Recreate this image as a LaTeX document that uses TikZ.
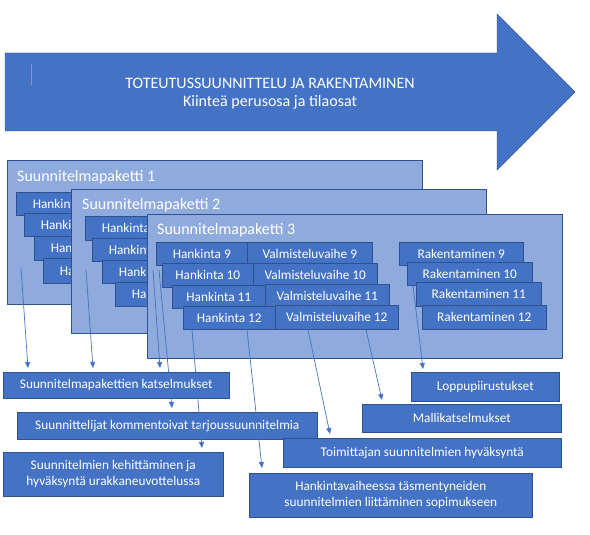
\documentclass[tikz,border=0pt]{standalone}
\usepackage{fontspec}
\setmainfont{Carlito}
\usetikzlibrary{arrows.meta,calc}
\definecolor{mainblue}{HTML}{4472C4}
\definecolor{panelblue}{HTML}{8FAADC}
\definecolor{edgeblue}{HTML}{2F528F}
\definecolor{cursorgray}{HTML}{9C9588}
\begin{document}
\begin{tikzpicture}[x=1pt,y=-1pt,
  box/.style={draw=edgeblue, line width=0.6pt, fill=mainblue, text=white, inner sep=0pt,
    anchor=north west, align=center, font=\fontsize{13.3}{16}\selectfont},
  panel/.style={draw=edgeblue, line width=0.7pt, fill=panelblue, inner sep=0pt,
    anchor=north west, minimum width=415pt, minimum height=144pt},
  ptitle/.style={text=white, anchor=west, inner sep=0pt, font=\fontsize{16}{19}\selectfont},
  conn/.style={draw=mainblue, line width=0.7pt, -{Triangle[length=6pt,width=5pt]}}]
\useasboundingbox (0,0) rectangle (590,535);

% big arrow
\draw[fill=mainblue, draw=edgeblue, line width=0.4pt]
  (5,53) -- (497,53) -- (497,14) -- (575,92) -- (497,170) -- (497,131) -- (5,131) -- cycle;
\node[align=center, text=white, inner sep=0pt, font=\fontsize{16}{18}\selectfont] (arrowtext) at (270,94)
  {TOTEUTUSSUUNNITTELU JA RAKENTAMINEN\\Kiinteä perusosa ja tilaosat};
\draw[cursorgray, line width=0.6pt] (31,64) -- (31,85);

% panel 1
\node[panel] (p1) at (7,160) {};
\node[ptitle] (p1t) at (17,177) {Suunnitelmapaketti 1};
\node[box, minimum width=91pt, minimum height=23pt] (h1) at (16,192) {Hankinta 1};
\node[box, minimum width=91pt, minimum height=23pt] (h2) at (24,213) {Hankinta 2};
\node[box, minimum width=91pt, minimum height=24pt] (h3) at (34,236) {Hankinta 3};
\node[box, minimum width=91pt, minimum height=25pt] (h4) at (43,258) {Hankinta 4};

% panel 2
\node[panel] (p2) at (71,189) {};
\node[ptitle] (p2t) at (82,205) {Suunnitelmapaketti 2};
\node[box, minimum width=91pt, minimum height=24pt] (h5) at (85,216) {Hankinta 5};
\node[box, minimum width=91pt, minimum height=23pt] (h6) at (92,238) {Hankinta 6};
\node[box, minimum width=91pt, minimum height=23pt] (h7) at (102,260) {Hankinta 7};
\node[box, minimum width=91pt, minimum height=24pt] (h8) at (115,282) {Hankinta 8};

% panel 3
\node[panel] (p3) at (147,214) {};
\node[ptitle] (p3t) at (157,230) {Suunnitelmapaketti 3};
\node[box, minimum width=91pt, minimum height=23pt] (h9) at (156,242) {Hankinta 9};
\node[box, minimum width=125pt, minimum height=23pt] (v9) at (247,242) {Valmisteluvaihe 9};
\node[box, minimum width=91pt, minimum height=24pt] (h10) at (162,263) {Hankinta 10};
\node[box, minimum width=124pt, minimum height=24pt] (v10) at (253,263) {Valmisteluvaihe 10};
\node[box, minimum width=93pt, minimum height=23pt] (h11) at (172,285) {Hankinta 11};
\node[box, minimum width=124pt, minimum height=24pt] (v11) at (265,284) {Valmisteluvaihe 11};
\node[box, minimum width=92pt, minimum height=23pt] (h12) at (183,306) {Hankinta 12};
\node[box, minimum width=123pt, minimum height=24pt] (v12) at (275,305) {Valmisteluvaihe 12};
\node[box, minimum width=124pt, minimum height=23pt] (r9) at (399,242) {Rakentaminen 9};
\node[box, minimum width=125pt, minimum height=23pt] (r10) at (407,262) {Rakentaminen 10};
\node[box, minimum width=125pt, minimum height=24pt] (r11) at (416,282) {Rakentaminen 11};
\node[box, minimum width=124pt, minimum height=24pt] (r12) at (422,305) {Rakentaminen 12};

% lower boxes
\node[box, minimum width=226pt, minimum height=26pt] (kats) at (3,372) {Suunnitelmapakettien katselmukset};
\node[box, minimum width=300pt, minimum height=27pt] (komm) at (17,412) {Suunnittelijat kommentoivat tarjoussuunnitelmia};
\node[box, minimum width=220pt, minimum height=44pt] (kehi) at (3,452) {Suunnitelmien kehittäminen ja\\hyväksyntä urakkaneuvottelussa};
\node[box, minimum width=283pt, minimum height=44pt] (hank) at (249,473) {Hankintavaiheessa täsmentyneiden\\suunnitelmien liittäminen sopimukseen};
\node[box, minimum width=278pt, minimum height=29pt] (toim) at (283,438) {Toimittajan suunnitelmien hyväksyntä};
\node[box, minimum width=199pt, minimum height=28pt] (mall) at (362,404) {Mallikatselmukset};
\node[box, minimum width=148pt, minimum height=29pt] (lopp) at (411,372) {Loppupiirustukset};

% connectors
\coordinate (sa) at (21,268);
\coordinate (sb) at (86,270);
\coordinate (sc) at (153,270);
\coordinate (sd) at (159,270);
\draw[conn] (sa) -- ([xshift=25pt,yshift=4pt]kats.north west);
\draw[conn] (sb) -- ([xshift=90pt,yshift=4pt]kats.north west);
\draw[conn] (sc) -- ([xshift=157pt,yshift=4pt]kats.north west);
\draw[conn] (sd) -- ([xshift=155pt,yshift=4pt]komm.north west);
\draw[conn] ([xshift=9pt]h12.south west) -- ([xshift=199pt,yshift=4pt]kehi.north west);
\draw[conn] ([xshift=64pt]h12.south west) -- ([xshift=13pt,yshift=5pt]hank.north west);
\draw[conn] ([xshift=33pt]v12.south west) -- ([xshift=47pt,yshift=4pt]toim.north west);
\draw[conn] ([xshift=91pt]v12.south west) -- ([xshift=20pt,yshift=4pt]mall.north west);
\draw[conn] ([xshift=6pt]r10.south west) -- ([xshift=12pt,yshift=3pt]lopp.north west);
\end{tikzpicture}
\end{document}
